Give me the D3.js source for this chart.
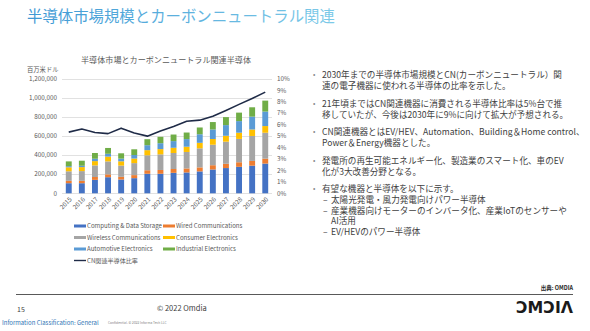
<!DOCTYPE html>
<html>
<head>
<meta charset="utf-8">
<script src="https://cdn.jsdelivr.net/npm/d3@7"></script>
<style>
  html, body { margin: 0; padding: 0; background: #fff; }
  svg { display: block; font-family: "Noto Sans CJK JP", "Noto Sans", sans-serif; }
</style>
</head>
<body>
<svg id="slide" width="590" height="331"></svg>
<script>
// market size by application, million USD
const years = ['2015', '2016', '2017', '2018', '2019', '2020', '2021', '2022', '2023', '2024', '2025', '2026', '2027', '2028', '2029', '2030'];
const computing = [106000, 106000, 141000, 169000, 145000, 159000, 205000, 205000, 215000, 219000, 230000, 250000, 265000, 278000, 290000, 312000];
const wired = [25000, 25000, 30000, 30000, 28000, 32000, 37000, 40000, 40000, 42000, 42000, 45000, 45000, 48000, 50000, 52000];
const wireless = [100000, 102000, 122000, 136000, 118000, 126000, 157000, 164000, 168000, 173000, 200000, 215000, 232000, 245000, 262000, 272000];
const consumer = [42000, 42000, 45000, 50000, 45000, 48000, 54000, 55000, 55000, 55000, 58000, 60000, 62000, 65000, 68000, 70000];
const automotive = [12000, 14000, 25000, 30000, 28000, 37000, 52000, 62000, 70000, 80000, 90000, 100000, 112000, 122000, 135000, 152000];
const industrial = [50000, 53000, 60000, 61000, 56000, 60000, 63000, 67000, 69000, 69000, 71000, 78000, 84000, 89000, 98000, 115000];
// share of CN-related semiconductors (right axis)
const cnRatio = [0.0535, 0.0562, 0.0532, 0.0522, 0.057, 0.0528, 0.05, 0.0545, 0.0585, 0.063, 0.064, 0.0675, 0.0725, 0.0778, 0.083, 0.0885];

const seriesNames = ['Computing & Data Storage', 'Wired Communications', 'Wireless Communications', 'Consumer Electronics', 'Automotive Electronics', 'Industrial Electronics'];
const seriesValues = [computing, wired, wireless, consumer, automotive, industrial];
const seriesColors = ['#4472c4', '#ed7d31', '#a5a5a5', '#ffc000', '#5b9bd5', '#70ad47'];
const lineName = 'CN関連半導体比率';
const leftTicks = [0, 200000, 400000, 600000, 800000, 1000000, 1200000];
const rightTicks = [0, 0.01, 0.02, 0.03, 0.04, 0.05, 0.06, 0.07, 0.08, 0.09, 0.10];

const bullets = [
	['2030年までの半導体市場規模とCN(カーボンニュートラル）関', '連の電子機器に使われる半導体の比率を示した。'],
	['21年頃まではCN関連機器に消費される半導体比率は5%台で推', '移していたが、今後は2030年に9%に向けて拡大が予想される。'],
	['CN関連機器とはEV/HEV、Automation、Building＆Home control、', 'Power＆Energy機器とした。'],
	['発電所の再生可能エネルギー化、製造業のスマート化、車のEV', '化が3大改善分野となる。'],
	['有望な機器と半導体を以下に示す。']
];
const subItems = [
	['太陽光発電・風力発電向けパワー半導体'],
	['産業機器向けモーターのインバータ化、産業IoTのセンサーや', 'AI活用'],
	['EV/HEVのパワー半導体']
];

const svg = d3.select('#slide');
const grey = '#595959';

// slide heading
const grad = svg.append('defs').append('linearGradient').attr('id', 'titleGrad');
grad.append('stop').attr('offset', '0%').attr('stop-color', '#3e98d4');
grad.append('stop').attr('offset', '100%').attr('stop-color', '#7ccae8');
svg.append('text')
	.attr('x', 27).attr('y', 22)
	.attr('font-size', 15.4)
	.attr('fill', 'url(#titleGrad)')
	.text('半導体市場規模とカーボンニュートラル関連');

// chart
const plot = {left: 62, right: 272, top: 79, bottom: 193.3};

const x = d3.scaleBand()
	.domain(years)
	.range([plot.left, plot.right])
	.paddingInner(0.55)
	.paddingOuter(0.29);
const y = d3.scaleLinear().domain([0, 1200000]).range([plot.bottom, plot.top]);
const y2 = d3.scaleLinear().domain([0, 0.10]).range([plot.bottom, plot.top]);

const chart = svg.append('g').attr('class', 'chart');

chart.append('text')
	.attr('x', 166).attr('y', 63)
	.attr('text-anchor', 'middle')
	.attr('font-size', 8.1)
	.attr('fill', grey)
	.text('半導体市場とカーボンニュートラル関連半導体');

chart.append('text')
	.attr('x', 27).attr('y', 72)
	.attr('font-size', 6.3)
	.attr('fill', grey)
	.text('百万米ドル');

chart.append('g')
	.selectAll('line')
	.data(leftTicks)
	.join('line')
	.attr('x1', plot.left).attr('x2', plot.right)
	.attr('y1', d => Math.round(y(d)) + 0.5).attr('y2', d => Math.round(y(d)) + 0.5)
	.attr('stroke', '#d9d9d9')
	.attr('stroke-width', 0.8);

chart.append('g')
	.selectAll('text')
	.data(leftTicks)
	.join('text')
	.attr('x', 57).attr('y', d => y(d))
	.attr('dy', '0.35em')
	.attr('text-anchor', 'end')
	.attr('font-size', 6.3)
	.attr('fill', grey)
	.text(d3.format(','));

chart.append('g')
	.selectAll('text')
	.data(rightTicks)
	.join('text')
	.attr('x', 277).attr('y', d => y2(d))
	.attr('dy', '0.35em')
	.attr('font-size', 6.3)
	.attr('fill', grey)
	.text(d3.format('.0%'));

const table = years.map((year, i) => {
	const row = {year};
	seriesNames.forEach((name, j) => row[name] = seriesValues[j][i]);
	return row;
});
const stacked = d3.stack().keys(seriesNames)(table);

chart.append('g')
	.selectAll('g')
	.data(stacked)
	.join('g')
	.attr('fill', (_, i) => seriesColors[i])
	.selectAll('rect')
	.data(d => d)
	.join('rect')
	.attr('x', d => x(d.data.year))
	.attr('width', x.bandwidth())
	.attr('y', d => y(d[1]))
	.attr('height', d => y(d[0]) - y(d[1]));

chart.append('path')
	.datum(cnRatio)
	.attr('fill', 'none')
	.attr('stroke', '#1f2b47')
	.attr('stroke-width', 1.6)
	.attr('stroke-linejoin', 'round')
	.attr('d', d3.line()
		.x((_, i) => x(years[i]) + x.bandwidth() / 2)
		.y(d => y2(d)));

chart.append('g')
	.selectAll('text')
	.data(years)
	.join('text')
	.attr('transform', d => `translate(${x(d) + x.bandwidth() / 2 + 2},${plot.bottom + 5}) rotate(-45)`)
	.attr('text-anchor', 'end')
	.attr('dy', '0.35em')
	.attr('font-size', 6.3)
	.attr('fill', grey)
	.text(d => d);

// legend, two columns plus the line entry
const legendItems = seriesNames.map((name, i) => ({name, color: seriesColors[i], kind: 'bar'}))
	.concat([{name: lineName, color: '#1f2b47', kind: 'line'}]);

const legend = chart.append('g')
	.selectAll('g')
	.data(legendItems)
	.join('g')
	.attr('transform', (_, i) => `translate(${i % 2 ? 163 : 74},${226 + Math.floor(i / 2) * 11.5})`);

legend.filter(d => d.kind === 'bar').append('rect')
	.attr('x', 0).attr('y', -1.5)
	.attr('width', 12).attr('height', 3)
	.attr('fill', d => d.color);

legend.filter(d => d.kind === 'line').append('line')
	.attr('x1', 0).attr('x2', 12)
	.attr('stroke', d => d.color)
	.attr('stroke-width', 1.4);

legend.append('text')
	.attr('x', 13)
	.attr('dy', '0.35em')
	.attr('font-size', 6.1)
	.attr('fill', grey)
	.text(d => d.name);

// bullet text on the right
const body = svg.append('g').attr('font-size', 8.6).attr('fill', '#404040');
const bulletTops = [75, 103.5, 132, 160.5, 189];

bullets.forEach((lines, i) => {
	body.append('text')
		.attr('x', 313).attr('y', bulletTops[i])
		.attr('dy', '0.35em')
		.attr('fill', '#8c8c8c')
		.attr('font-size', 7)
		.text('•');
	lines.forEach((line, k) => body.append('text')
		.attr('x', 322).attr('y', bulletTops[i] + k * 11)
		.attr('dy', '0.35em')
		.text(line));
});

let subY = 200;
subItems.forEach(lines => {
	body.append('text')
		.attr('x', 323).attr('y', subY)
		.attr('dy', '0.35em')
		.text('–');
	lines.forEach(line => {
		body.append('text')
			.attr('x', 331).attr('y', subY)
			.attr('dy', '0.35em')
			.text(line);
		subY += 10.7;
	});
});

// footer
svg.append('text')
	.attr('x', 573).attr('y', 290)
	.attr('text-anchor', 'end')
	.attr('font-size', 5.5)
	.attr('font-weight', 'bold')
	.attr('fill', '#262626')
	.text('出典: OMDIA');

svg.append('line')
	.attr('x1', 16).attr('x2', 573)
	.attr('y1', 294.5).attr('y2', 294.5)
	.attr('stroke', '#595959')
	.attr('stroke-width', 1.2);

svg.append('text')
	.attr('x', 516).attr('y', 313)
	.attr('font-family', '"DejaVu Sans", sans-serif')
	.attr('font-weight', 'bold')
	.attr('font-size', 16)
	.attr('textLength', 57)
	.attr('lengthAdjust', 'spacingAndGlyphs')
	.attr('fill', '#1a1a1a')
	.text('ƆMƆIΛ');

svg.append('text')
	.attr('x', 17).attr('y', 312)
	.attr('font-size', 7)
	.attr('fill', '#404040')
	.text('15');

svg.append('text')
	.attr('x', 157).attr('y', 311)
	.attr('font-size', 7.5)
	.attr('fill', '#404040')
	.text('© 2022 Omdia');

svg.append('text')
	.attr('x', 2).attr('y', 325)
	.attr('font-size', 6)
	.attr('fill', '#2f75b5')
	.text('Information Classification: General');

svg.append('text')
	.attr('x', 108).attr('y', 324)
	.attr('font-size', 3.3)
	.attr('fill', '#7f7f7f')
	.text('Confidential. © 2022 Informa Tech LLC');
</script>
</body>
</html>
